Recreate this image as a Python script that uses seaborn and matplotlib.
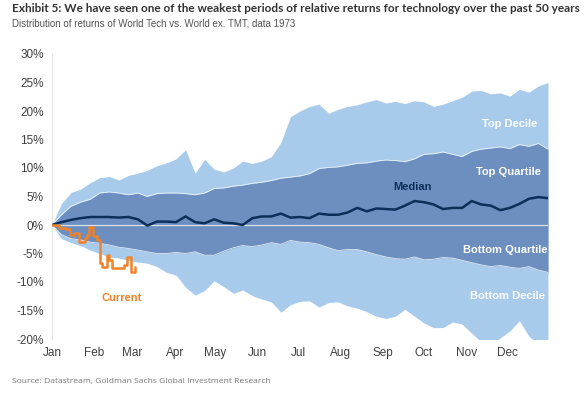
import numpy as np
import pandas as pd
import matplotlib
matplotlib.use("Agg")
import matplotlib.pyplot as plt
import matplotlib.dates as mdates
import seaborn as sns

# ---------------- data (percent) ----------------
week_start = "2023-01-01"
n_weeks = 53
top_decile = [0, 3.8, 5.7, 6.3, 7.4, 8.3, 8.5, 7.9, 8.7, 9.1, 9.6, 10.4, 10.9, 11.6,
              13.2, 9.1, 11.5, 9.8, 9.3, 10.0, 11.2, 10.8, 11.2, 12.0, 14.5, 19.0, 20.0,
              20.8, 21.2, 19.6, 20.3, 20.8, 21.1, 21.6, 22.0, 21.4, 21.7, 21.3, 21.8,
              21.6, 20.8, 21.2, 21.8, 22.4, 23.5, 23.6, 23.0, 23.2, 22.6, 23.8, 23.3,
              24.4, 25.0]
top_quartile = [0, 1.8, 3.3, 4.0, 4.5, 5.6, 5.8, 5.6, 5.3, 5.6, 5.0, 5.5, 5.6, 5.6,
                5.5, 5.3, 5.6, 6.4, 6.5, 6.8, 7.0, 7.3, 7.5, 7.8, 8.2, 8.4, 8.6, 9.0,
                9.9, 10.1, 10.2, 10.5, 10.8, 10.9, 11.2, 11.4, 11.3, 11.1, 11.6, 12.4,
                12.5, 12.8, 12.4, 12.0, 12.9, 13.3, 13.5, 13.7, 13.4, 14.1, 13.8, 14.3,
                13.3]
median = [0, 0.5, 0.9, 1.2, 1.4, 1.4, 1.4, 1.3, 1.4, 1.0, -0.1, 0.6, 0.6, 0.5, 1.5,
          0.5, 0.3, 1.0, 0.4, 0.3, 0.0, 1.2, 1.5, 1.5, 2.0, 1.3, 1.4, 1.2, 2.0, 1.8,
          1.8, 2.2, 3.0, 2.4, 2.9, 2.8, 2.7, 3.4, 4.2, 4.0, 3.6, 2.8, 3.0, 3.0, 4.2,
          3.6, 3.4, 2.6, 3.0, 3.7, 4.6, 4.9, 4.7]
bottom_quartile = [0, -1.7, -2.4, -2.6, -3.0, -3.2, -3.5, -3.9, -4.1, -4.4, -4.7, -5.0,
                   -5.0, -4.8, -5.0, -4.7, -5.3, -5.3, -4.6, -4.0, -3.6, -3.8, -3.5,
                   -3.1, -3.4, -2.7, -3.0, -3.1, -3.4, -4.0, -4.5, -4.3, -4.3, -4.7,
                   -5.2, -5.6, -5.9, -6.0, -5.6, -6.1, -6.0, -5.7, -5.8, -6.2, -6.6,
                   -7.0, -7.3, -7.1, -7.4, -7.6, -7.3, -7.9, -8.3]
bottom_decile = [0, -2.4, -3.1, -3.6, -4.4, -5.0, -5.6, -5.8, -6.2, -6.5, -6.7, -7.3,
                 -8.3, -8.8, -10.9, -12.3, -11.5, -9.8, -10.8, -12.0, -11.4, -12.4,
                 -13.0, -13.5, -15.3, -14.0, -13.4, -13.3, -14.4, -13.6, -13.5, -14.2,
                 -14.6, -15.2, -16.0, -16.4, -16.0, -14.8, -16.0, -17.2, -18.0, -18.0,
                 -17.0, -17.4, -19.0, -20.5, -21.0, -19.8, -18.6, -16.8, -19.5, -21.0,
                 -21.0]

current_dates = ["2023-01-01", "2023-01-06", "2023-01-11", "2023-01-14", "2023-01-17",
                 "2023-01-21", "2023-01-25", "2023-01-27", "2023-01-28", "2023-01-31",
                 "2023-02-03", "2023-02-05", "2023-02-07", "2023-02-10", "2023-02-12",
                 "2023-02-14", "2023-02-20", "2023-02-23", "2023-02-25", "2023-02-28",
                 "2023-03-03"]
current = [0, -0.5, -0.7, -1.8, -1.4, -3.0, -2.3, -1.8, -0.3, -1.9, -2.6, -6.7, -7.4,
           -5.3, -6.2, -7.6, -7.6, -7.0, -5.6, -8.3, -7.4]

months = ["Jan", "Feb", "Mar", "Apr", "May", "Jun", "Jul", "Aug", "Sep", "Oct", "Nov", "Dec"]
yticks = [30, 25, 20, 15, 10, 5, 0, -5, -10, -15, -20]

# ---------------- frames ----------------
dates = pd.date_range(week_start, periods=n_weeks, freq="7D")
bands = pd.DataFrame({"date": dates, "p90": top_decile, "p75": top_quartile,
                      "p50": median, "p25": bottom_quartile, "p10": bottom_decile})
cur = pd.DataFrame({"date": pd.to_datetime(current_dates), "val": current})

LIGHT = "#a8cbec"
DARK = "#6c8fbf"
NAVY = "#0c2f5a"
ORANGE = "#f0832a"
GREY = "#404040"

sns.set_theme(style="white")
plt.rcParams["font.family"] = ["Liberation Sans", "DejaVu Sans"]

fig = plt.figure(figsize=(5.85, 3.97), dpi=100)
ax = fig.add_axes([52 / 585, (397 - 339) / 397, 496 / 585, 285 / 397])

ax.fill_between(bands["date"], bands["p10"], bands["p90"], color=LIGHT, lw=0, zorder=1)
ax.fill_between(bands["date"], bands["p25"], bands["p75"], color=DARK, lw=0, zorder=2)
ax.plot(bands["date"], bands["p75"], color="white", lw=0.6, alpha=0.8, zorder=3)
ax.plot(bands["date"], bands["p25"], color="white", lw=0.6, alpha=0.8, zorder=3)
ax.axhline(0, color="#d9e3ee", lw=0.9, zorder=4)

sns.lineplot(data=bands, x="date", y="p50", ax=ax, color=NAVY, lw=1.8, zorder=5)
sns.lineplot(data=cur, x="date", y="val", ax=ax, color=ORANGE, lw=1.8, zorder=6,
             drawstyle="steps-post")

ax.set_xlim(pd.Timestamp("2023-01-01"), pd.Timestamp("2023-12-31"))
ax.set_ylim(-20, 30)
ax.set_yticks(yticks)
ax.set_yticklabels([f"{v}%" for v in yticks])
month_starts = pd.date_range("2023-01-01", periods=12, freq="MS")
ax.set_xticks(month_starts)
ax.set_xticklabels(months)
ax.tick_params(axis="both", labelsize=8.5, labelcolor=GREY, length=0)
ax.tick_params(axis="x", pad=6)
ax.tick_params(axis="y", pad=6)
ax.set_xlabel("")
ax.set_ylabel("")
for s in ["top", "right", "bottom"]:
    ax.spines[s].set_visible(False)
ax.spines["left"].set_color("#e3e3e3")
ax.spines["left"].set_linewidth(0.8)

# band labels
def px(x, y):
    return (x / 585, 1 - y / 397)

lab = dict(ha="center", va="center", fontsize=8, fontweight="bold",
           transform=fig.transFigure, zorder=10)
fig.text(*px(510, 124), "Top Decile", color="white", **lab)
fig.text(*px(508, 172), "Top Quartile", color="white", **lab)
fig.text(*px(412, 187), "Median", color=NAVY, **lab)
fig.text(*px(505, 250), "Bottom Quartile", color="white", **lab)
fig.text(*px(507, 296), "Bottom Decile", color="white", **lab)
fig.text(*px(122, 298), "Current", color=ORANGE, **lab)

# titles
fig.text(12 / 585, 1 - 9 / 397,
         "Exhibit 5: We have seen one of the weakest periods of relative returns for technology over the past 50 years",
         ha="left", va="center", fontsize=8.45, fontweight="bold", color="#333333",
         family=["Lato", "DejaVu Sans"])
fig.text(12 / 585, 1 - 24 / 397,
         "Distribution of returns of World Tech vs. World ex. TMT, data 1973",
         ha="left", va="center", fontsize=7.0, color="#555555",
         family=["Liberation Sans", "DejaVu Sans"])
fig.text(12 / 585, 1 - 382 / 397,
         "Source: Datastream, Goldman Sachs Global Investment Research",
         ha="left", va="center", fontsize=6.1, color="#777777",
         family=["Open Sans", "DejaVu Sans"])

fig.savefig("out.png", dpi=100)
